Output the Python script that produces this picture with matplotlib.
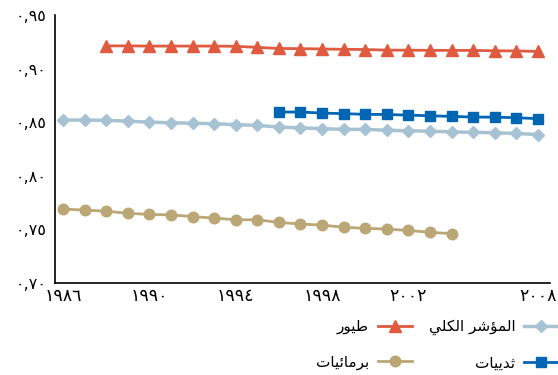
import matplotlib
matplotlib.use("Agg")
import matplotlib.pyplot as plt

# ---------------- data ----------------
years_all = list(range(1986, 2009))
overall = [0.852, 0.852, 0.8517, 0.851, 0.850, 0.8495, 0.849, 0.8486, 0.8477, 0.847,
           0.8455, 0.8447, 0.844, 0.8433, 0.8433, 0.8425, 0.842, 0.8416, 0.841,
           0.8405, 0.8402, 0.8395, 0.8385]
years_birds = list(range(1988, 2009))
birds = [0.9212, 0.9212, 0.921, 0.921, 0.921, 0.921, 0.9208, 0.9198, 0.9188,
         0.9186, 0.9183, 0.918, 0.9178, 0.9172, 0.9172, 0.917, 0.917, 0.917,
         0.9166, 0.9165, 0.916]
years_mammals = list(range(1996, 2009))
mammals = [0.8595, 0.8595, 0.8585, 0.858, 0.8573, 0.8572, 0.8566, 0.856, 0.8554,
           0.8548, 0.8547, 0.8542, 0.8533]
years_amph = list(range(1986, 2005))
amphibians = [0.769, 0.768, 0.767, 0.765, 0.764, 0.7635, 0.762, 0.7605, 0.759, 0.759,
              0.7565, 0.755, 0.754, 0.752, 0.751, 0.7503, 0.749, 0.7473, 0.746]

x_ticks = [1986, 1990, 1994, 1998, 2002, 2008]
y_ticks = [0.70, 0.75, 0.80, 0.85, 0.90, 0.95]
label_overall = "المؤشر الكلي"
label_birds = "طيور"
label_mammals = "ثدييات"
label_amph = "برمائيات"

# ---------------- Arabic shaping helper ----------------
# forms: (isolated, final, initial, medial); None where not available
FORMS = {
    'ا': (0xFE8D, 0xFE8E, None, None),
    'ؤ': (0xFE85, 0xFE86, None, None),
    'ر': (0xFEAD, 0xFEAE, None, None),
    'و': (0xFEED, 0xFEEE, None, None),
    'د': (0xFEA9, 0xFEAA, None, None),
    'ل': (0xFEDD, 0xFEDE, 0xFEDF, 0xFEE0),
    'م': (0xFEE1, 0xFEE2, 0xFEE3, 0xFEE4),
    'ش': (0xFEB5, 0xFEB6, 0xFEB7, 0xFEB8),
    'ك': (0xFED9, 0xFEDA, 0xFEDB, 0xFEDC),
    'ي': (0xFEF1, 0xFEF2, 0xFEF3, 0xFEF4),
    'ط': (0xFEC1, 0xFEC2, 0xFEC3, 0xFEC4),
    'ث': (0xFE99, 0xFE9A, 0xFE9B, 0xFE9C),
    'ب': (0xFE8F, 0xFE90, 0xFE91, 0xFE92),
    'ئ': (0xFE89, 0xFE8A, 0xFE8B, 0xFE8C),
    'ت': (0xFE95, 0xFE96, 0xFE97, 0xFE98),
}


def shape(text):
    out = []
    n = len(text)
    for i, ch in enumerate(text):
        if ch not in FORMS:
            out.append(ch)
            continue
        f = FORMS[ch]
        prev = text[i - 1] if i > 0 else None
        nxt = text[i + 1] if i < n - 1 else None
        join_prev = prev in FORMS and FORMS[prev][2] is not None
        join_next = nxt in FORMS and f[2] is not None
        if join_prev and join_next:
            code = f[3]
        elif join_prev:
            code = f[1]
        elif join_next:
            code = f[2]
        else:
            code = f[0]
        out.append(chr(code))
    return ''.join(out)[::-1]


AR_DIGITS = '٠١٢٣٤٥٦٧٨٩'


def ar_num(s):
    return ''.join(AR_DIGITS[int(c)] if c.isdigit() else (',' if c == '.' else c) for c in s)


# ---------------- plot ----------------
plt.rcParams['font.family'] = ['DejaVu Sans']
fig = plt.figure(figsize=(5.58, 3.75), dpi=100)
ax = fig.add_axes([55 / 558, 1 - 283 / 375, (550 - 55) / 558, (283 - 15) / 375])

c_overall = '#A7C3D3'
c_birds = '#E05A40'
c_mammals = '#0066B3'
c_amph = '#BBA775'

lw = 2.0
h_birds, = ax.plot(years_birds, birds, color=c_birds, lw=lw, marker='^', ms=8.6,
                   label=shape(label_birds), zorder=3)
h_amph, = ax.plot(years_amph, amphibians, color=c_amph, lw=lw, marker='o', ms=7.6,
                  label=shape(label_amph), zorder=3)
h_overall, = ax.plot(years_all, overall, color=c_overall, lw=lw + 0.5, marker='D', ms=6.2,
                     label=shape(label_overall), zorder=2)
h_mammals, = ax.plot(years_mammals, mammals, color=c_mammals, lw=lw, marker='s', ms=7.8,
                     label=shape(label_mammals), zorder=4)

ax.set_xlim(1985.63, 2008.56)
ax.set_ylim(0.70, 0.95)
ax.set_xticks(x_ticks)
ax.set_xticklabels([ar_num(str(y)) for y in x_ticks])
ax.set_yticks(y_ticks)
ax.set_yticklabels([ar_num(f"{v:.2f}") for v in y_ticks])
ax.tick_params(axis='both', length=0, colors='black')
ax.tick_params(axis='y', pad=6, labelsize=11.5)
ax.tick_params(axis='x', pad=3, labelsize=12.5)
for s in ['top', 'right']:
    ax.spines[s].set_visible(False)
for s in ['left', 'bottom']:
    ax.spines[s].set_linewidth(1.2)
    ax.spines[s].set_color('black')

leg = fig.legend(handles=[h_birds, h_amph, h_overall, h_mammals], ncol=2,
                 loc='upper right', bbox_to_anchor=(1.0, 1 - 319 / 375),
                 frameon=False, markerfirst=False, fontsize=11,
                 handlelength=2.2, handletextpad=0.6, columnspacing=1.1,
                 labelspacing=1.33, borderaxespad=0, borderpad=0)

fig.savefig('out.png', dpi=100)
